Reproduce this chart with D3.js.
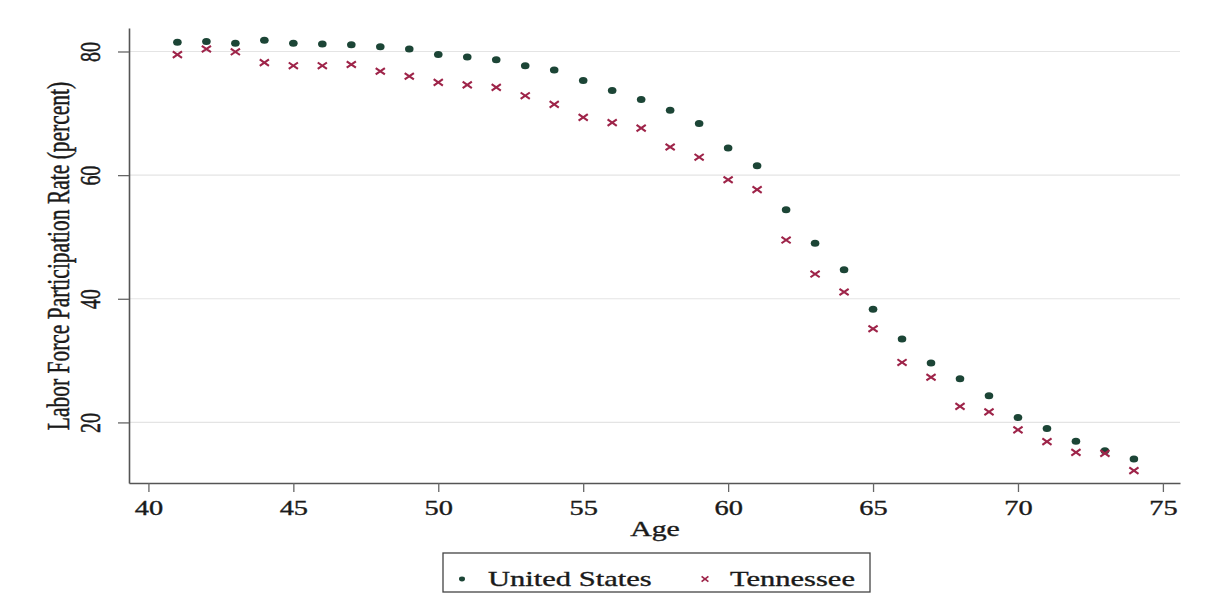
<!DOCTYPE html>
<html>
<head>
<meta charset="utf-8">
<script src="https://cdn.jsdelivr.net/npm/d3@7"></script>
<style>
  html, body { margin: 0; padding: 0; background: #fff; }
  svg { display: block; }
  text { font-family: "Liberation Serif", "DejaVu Serif", serif; fill: #1a1a1a; stroke: #1a1a1a; stroke-width: 0.35px; }
</style>
</head>
<body>
<svg id="chart" width="1206" height="593"></svg>
<script>
// ---- data ----
const ages = [41,42,43,44,45,46,47,48,49,50,51,52,53,54,55,56,57,58,59,60,61,62,63,64,65,66,67,68,69,70,71,72,73,74];
const unitedStates = [81.5,81.6,81.35,81.8,81.35,81.2,81.1,80.75,80.4,79.5,79.1,78.65,77.7,77.0,75.3,73.7,72.25,70.5,68.35,64.4,61.5,54.4,49.0,44.7,38.3,33.5,29.6,27.05,24.3,20.8,19.0,16.95,15.4,14.1];
const tennessee = [79.5,80.4,79.95,78.2,77.7,77.7,77.9,76.8,76.0,75.0,74.6,74.2,72.85,71.45,69.35,68.5,67.6,64.55,62.9,59.25,57.65,49.5,44.0,41.1,35.15,29.7,27.3,22.6,21.7,18.8,16.9,15.15,15.0,12.2];
const xTicks = [40,45,50,55,60,65,70,75];
const yTicks = [20,40,60,80];
const seriesNames = ["United States", "Tennessee"];
const xTitle = "Age";
const yTitle = "Labor Force Participation Rate (percent)";

// ---- layout ----
const stretch = 1.42;
const colUS = "#1c4536";
const colTN = "#9e2449";
const svg = d3.select("#chart");

const x = d3.scaleLinear().domain([39.33, 75.59]).range([129, 1180]);
const y = d3.scaleLinear().domain([10.2, 83.8]).range([483, 28]);

// gridlines
svg.append("g").selectAll("line").data(yTicks).join("line")
  .attr("x1", 130).attr("x2", 1180)
  .attr("y1", d => y(d)).attr("y2", d => y(d))
  .attr("stroke", "#e4e4e4").attr("stroke-width", 1.2);

// x axis
const gx = svg.append("g").attr("transform", "translate(0,483)")
  .call(d3.axisBottom(x).tickValues(xTicks).tickSize(9).tickSizeOuter(0).tickFormat(d3.format("d")));
gx.select(".domain").attr("stroke", "#555").attr("stroke-width", 1.6);
gx.selectAll(".tick line").attr("stroke", "#666").attr("stroke-width", 1.3);
gx.selectAll(".tick text")
  .attr("y", 32).attr("dy", 0)
  .attr("transform", `scale(${stretch},1)`)
  .attr("font-size", 20).attr("fill", "#1a1a1a")
  .style("font-family", "'Liberation Serif', serif");

// y axis
const gy = svg.append("g").attr("transform", "translate(129,0)")
  .call(d3.axisLeft(y).tickValues(yTicks).tickSize(11).tickSizeOuter(0).tickFormat(d3.format("d")));
gy.select(".domain").attr("stroke", "#555").attr("stroke-width", 1.6);
gy.selectAll(".tick line").attr("stroke", "#666").attr("stroke-width", 1.3);
gy.selectAll(".tick text")
  .attr("x", 0).attr("y", 0).attr("dy", 0)
  .attr("text-anchor", "middle")
  .attr("transform", `translate(-29,0) scale(${stretch},1) rotate(-90)`)
  .attr("font-size", 20).attr("fill", "#1a1a1a")
  .style("font-family", "'Liberation Serif', serif");

// axis titles
svg.append("text")
  .attr("text-anchor", "middle")
  .attr("transform", `translate(655,536) scale(${stretch},1)`)
  .attr("font-size", 21)
  .text(xTitle);
svg.append("text")
  .attr("text-anchor", "middle")
  .attr("transform", `translate(69,256) scale(${stretch},1) rotate(-90)`)
  .attr("font-size", 21.5)
  .text(yTitle);

// markers
const crossPath = (s, h) => `M${-s},${-h}L${s},${h}M${-s},${h}L${s},${-h}`;

svg.append("g").selectAll("ellipse").data(ages.map((a, i) => [a, unitedStates[i]])).join("ellipse")
  .attr("cx", d => x(d[0])).attr("cy", d => y(d[1]))
  .attr("rx", 4.3).attr("ry", 3.5)
  .attr("fill", colUS);

svg.append("g").selectAll("path").data(ages.map((a, i) => [a, tennessee[i]])).join("path")
  .attr("transform", d => `translate(${x(d[0])},${y(d[1])})`)
  .attr("d", crossPath(4.6, 3.2))
  .attr("stroke", colTN).attr("stroke-width", 2.1).attr("fill", "none");

// legend
const lg = svg.append("g");
lg.append("rect").attr("x", 443).attr("y", 553).attr("width", 427).attr("height", 39)
  .attr("fill", "#fff").attr("stroke", "#444").attr("stroke-width", 1.3);
lg.append("ellipse").attr("cx", 462).attr("cy", 579).attr("rx", 3).attr("ry", 2.4).attr("fill", colUS);
lg.append("text").attr("transform", `translate(488,586) scale(${stretch},1)`)
  .attr("font-size", 21.5).text(seriesNames[0]);
lg.append("path").attr("transform", "translate(705,579)").attr("d", crossPath(3.4, 2.6))
  .attr("stroke", colTN).attr("stroke-width", 1.7).attr("fill", "none");
lg.append("text").attr("transform", `translate(730,586) scale(${stretch},1)`)
  .attr("font-size", 21.5).text(seriesNames[1]);
</script>
</body>
</html>
